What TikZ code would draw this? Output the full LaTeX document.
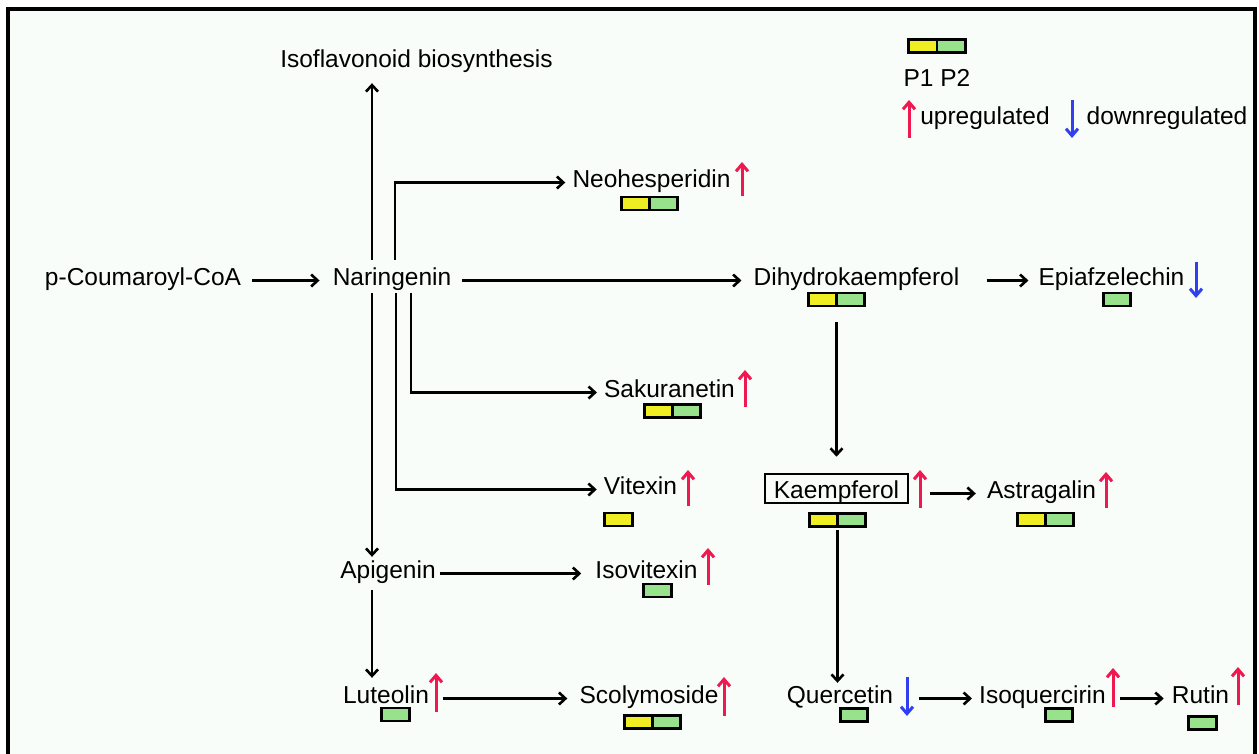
\documentclass[tikz,border=0pt]{standalone}
\usepackage{fontspec}
\setmainfont{Liberation Sans}
\usetikzlibrary{arrows.meta,calc}
\definecolor{ylw}{RGB}{238,238,34}
\definecolor{grn}{RGB}{152,226,140}
\definecolor{upred}{RGB}{240,24,80}
\definecolor{dnblue}{RGB}{48,64,240}
\definecolor{bgc}{RGB}{249,253,249}
\begin{document}
\begin{tikzpicture}[x=1pt,y=-1pt,
  lbl/.style={inner sep=0pt, anchor=base, text height=14pt, text depth=5pt, font=\fontsize{24.5}{29}\selectfont},
  framed/.style={lbl, draw, line width=2.6pt, text height=23pt, text depth=4pt, inner xsep=9pt, inner ysep=1pt},
  cellbox/.style={draw, line width=2.8pt, inner sep=0pt, minimum height=13pt},
  pairbox/.style={cellbox, minimum width=56.5pt,
    path picture={\fill[ylw] (path picture bounding box.south west) rectangle (path picture bounding box.north);
      \fill[grn] (path picture bounding box.south) rectangle (path picture bounding box.north east);
      \draw[line width=2.8pt] (path picture bounding box.south) -- (path picture bounding box.north);}},
  greenbox/.style={cellbox, minimum width=27.5pt, fill=grn},
  yelbox/.style={cellbox, minimum width=27.5pt, fill=ylw},
  conn/.style={line width=2.6pt, -{Straight Barb[length=6.5pt,width=12pt]}},
  upar/.style={draw=upred, line width=3pt, -{Straight Barb[length=7pt,width=12pt]}},
  dnar/.style={draw=dnblue, line width=3pt, -{Straight Barb[length=7pt,width=12pt]}}
]
\useasboundingbox (0,0) rectangle (1259,753);
\fill[white] (0,0) rectangle (1259,753);
\fill[bgc] (8,9) rectangle (1255,760);
\draw[line width=3.2pt] (8,9) rectangle (1255,790);

% legend
\node[pairbox] (legbox) at (937,46) {};
\node[lbl] (legp) at (937,86) {P1 P2};
\node[lbl] (legup) at (985,124) {upregulated};
\node[lbl] (legdn) at (1167,124) {downregulated};
\draw[upar] (909,138) -- (909,100);
\draw[dnar] (1072,100) -- (1072,138);

% labels
\node[lbl] (iso) at (416.5,67) {Isoflavonoid biosynthesis};
\node[lbl] (pcoa) at (143,285) {p-Coumaroyl-CoA};
\node[lbl] (nar) at (392,285) {Naringenin};
\node[lbl] (dih) at (856.5,285) {Dihydrokaempferol};
\node[lbl] (epi) at (1111.5,285) {Epiafzelechin};
\node[lbl] (neo) at (651.5,187) {Neohesperidin};
\node[lbl] (sak) at (669.5,397) {Sakuranetin};
\node[lbl] (vit) at (640.5,494) {Vitexin};
\node[framed] (kae) at (836.5,498) {Kaempferol};
\node[lbl] (ast) at (1041.5,498) {Astragalin};
\node[lbl] (api) at (388,578) {Apigenin};
\node[lbl] (isov) at (646.5,578) {Isovitexin};
\node[lbl] (lut) at (386,703) {Luteolin};
\node[lbl] (sco) at (649,703) {Scolymoside};
\node[lbl] (que) at (840,703) {Quercetin};
\node[lbl] (isoq) at (1042.5,703) {Isoquercirin};
\node[lbl] (rut) at (1200.5,703) {Rutin};

% boxes
\node[pairbox] (dbox) at (836.5,299.5) {};
\node[greenbox] (epibox) at (1117,299.5) {};
\node[pairbox] (neobox) at (649.5,203.5) {};
\node[pairbox] (sakbox) at (672.5,411) {};
\node[yelbox] (vitbox) at (618.5,519.5) {};
\node[pairbox] (kbox) at (837.5,520) {};
\node[pairbox] (astbox) at (1045.5,519.5) {};
\node[greenbox] (isovbox) at (657.5,590.5) {};
\node[greenbox] (lutbox) at (395.5,714.5) {};
\node[pairbox] (scobox) at (652.5,722) {};
\node[greenbox] (quebox) at (854,715) {};
\node[greenbox] (isoqbox) at (1059,715) {};
\node[greenbox] (rutbox) at (1202.5,723) {};

% regulation marks
\draw[upar] (742,196) -- (742,162);
\draw[dnar] (1196,262) -- (1196,298);
\draw[upar] (745,407) -- (745,370);
\draw[upar] (688,506) -- (688,470);
\draw[upar] (920,508) -- (920,470);
\draw[upar] (1106,508) -- (1106,472);
\draw[upar] (708,585) -- (708,548);
\draw[upar] (436,712) -- (436,673);
\draw[upar] (724,716) -- (724,677);
\draw[dnar] (907,677) -- (907,716);
\draw[upar] (1113,707) -- (1113,668);
\draw[upar] (1238,705) -- (1238,667);

% connectors
\draw[conn, shorten <=11pt, shorten >=13pt] (pcoa) -- (nar);
\draw[conn, shorten <=11pt, shorten >=12pt] (nar) -- (dih);
\draw[conn, shorten <=27pt, shorten >=10pt] (dih) -- (epi);
\draw[conn, shorten <=15pt, shorten >=16pt] (dbox.south) -- (dbox.south |- kae.north);
\draw[conn, shorten <=21pt, shorten >=11pt] (kae.east |- ast) -- (ast);
\draw[conn, shorten <=2pt, shorten >=6pt] (kbox.south) -- (kbox.south |- que.north);
\draw[conn, shorten <=26pt, shorten >=7pt] (que) -- (isoq);
\draw[conn, shorten <=14pt, shorten >=8pt] (isoq) -- (rut);
\draw[conn, shorten <=4pt, shorten >=14pt] (api) -- (isov);
\draw[conn, shorten <=14pt, shorten >=12pt] (lut) -- (sco);
\draw[conn, shorten <=11pt, shorten >=11pt] ([xshift=-20pt]nar.north) -- ([xshift=-20pt]nar.north |- iso.south);
\draw[conn, shorten <=11pt, shorten >=7pt] ([xshift=3pt]nar.north) |- (neo.west);
\draw[conn, shorten <=3pt, shorten >=7pt] ([xshift=19pt]nar.south) |- (sak.west);
\draw[conn, shorten <=3pt, shorten >=7pt] ([xshift=4pt]nar.south) |- (vit.west);
\draw[conn, shorten <=3pt, shorten >=7pt] ([xshift=-20pt]nar.south) -- ([xshift=-20pt]nar.south |- api.north);
\draw[conn, shorten <=7pt, shorten >=11pt] ([xshift=-16pt]api.south) -- ([xshift=-16pt]api.south |- lut.north);
\end{tikzpicture}
\end{document}
